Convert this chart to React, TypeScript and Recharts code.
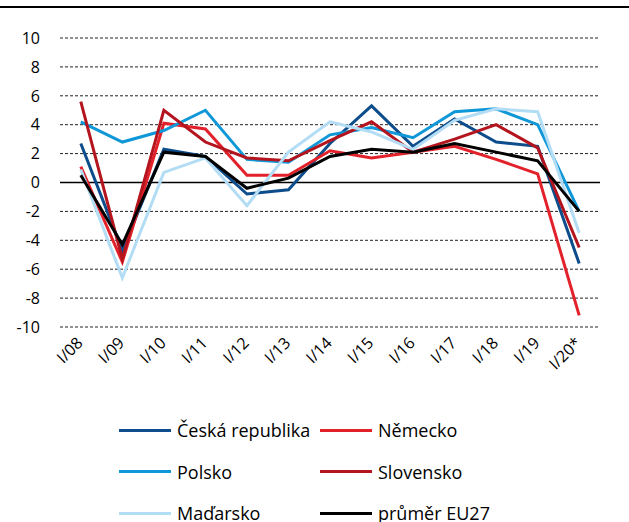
import { LineChart, Line, XAxis, YAxis, CartesianGrid, ReferenceLine } from 'recharts';

const periods = ['I/08', 'I/09', 'I/10', 'I/11', 'I/12', 'I/13', 'I/14', 'I/15', 'I/16', 'I/17', 'I/18', 'I/19', 'I/20*'];
const cesko = [2.7, -4.7, 2.3, 1.8, -0.8, -0.5, 2.7, 5.3, 2.5, 4.4, 2.8, 2.5, -5.6];
const nemecko = [1.1, -5.5, 4.1, 3.7, 0.5, 0.5, 2.2, 1.7, 2.1, 2.5, 1.6, 0.6, -9.2];
const polsko = [4.2, 2.8, 3.6, 5.0, 1.6, 1.4, 3.3, 3.8, 3.1, 4.9, 5.1, 4.0, -2.0];
const slovensko = [5.6, -5.3, 5.0, 2.8, 1.7, 1.5, 2.9, 4.2, 2.1, 3.0, 4.0, 2.4, -4.5];
const madarsko = [0.9, -6.6, 0.7, 1.7, -1.6, 2.1, 4.2, 3.5, 2.3, 4.3, 5.1, 4.9, -3.5];
const eu27 = [0.5, -4.3, 2.1, 1.8, -0.4, 0.3, 1.8, 2.3, 2.1, 2.7, 2.1, 1.5, -2.0];
const yTicks = [-10, -8, -6, -4, -2, 0, 2, 4, 6, 8, 10];

const series = [
  { key: 'cz', name: 'Česká republika', values: cesko, color: '#0d4d8c' },
  { key: 'de', name: 'Německo', values: nemecko, color: '#e3212b' },
  { key: 'pl', name: 'Polsko', values: polsko, color: '#0f97d7' },
  { key: 'sk', name: 'Slovensko', values: slovensko, color: '#b4141e' },
  { key: 'hu', name: 'Maďarsko', values: madarsko, color: '#b3dcf5' },
  { key: 'eu', name: 'průměr EU27', values: eu27, color: '#000000' },
];

const data = periods.map((period, i) => {
  const row: Record<string, string | number> = { period };
  series.forEach((s) => { row[s.key] = s.values[i]; });
  return row;
});

const FONT = '"Open Sans", sans-serif';

const XTick = ({ x, y, payload }: any) => (
  <text
    x={x + 3}
    y={y + 9}
    transform={`rotate(-45, ${x + 3}, ${y + 9})`}
    textAnchor="end"
    fontSize={16}
    fontFamily={FONT}
    fill="#000"
  >
    {payload.value}
  </text>
);

const YTick = ({ y, payload }: any) => (
  <text x={40} y={y} dy="0.36em" textAnchor="end" fontSize={16} fontFamily={FONT} fill="#000">
    {payload.value}
  </text>
);

const App = () => {
  return (
    <div style={{ position: 'absolute', left: 0, top: 0, width: 629, height: 522, background: '#fff', fontFamily: FONT, overflow: 'hidden' }}>
      <div style={{ position: 'absolute', left: 0, top: 6, width: 629, height: 1.5, background: '#000' }} />
      <LineChart width={629} height={522} data={data} margin={{ top: 38, right: 29, left: 0, bottom: 0 }}>
        <CartesianGrid vertical={false} strokeDasharray="3 2" stroke="#222" />
        <XAxis
          dataKey="period"
          axisLine={false}
          tickLine={false}
          interval={0}
          height={195}
          padding={{ left: 20.8, right: 20.8 }}
          tick={<XTick />}
        />
        <YAxis
          domain={[-10, 10]}
          ticks={yTicks}
          width={60}
          axisLine={false}
          tickLine={false}
          tick={<YTick />}
        />
        <ReferenceLine y={0} stroke="#000" strokeWidth={1.5} />
        {series.map((s) => (
          <Line
            key={s.key}
            type="linear"
            dataKey={s.key}
            name={s.name}
            stroke={s.color}
            strokeWidth={3}
            dot={false}
            isAnimationActive={false}
          />
        ))}
      </LineChart>
      {series.map((s, i) => {
        const col = i % 2;
        const row = Math.floor(i / 2);
        const left = col === 0 ? 119 : 320;
        const top = 430 + row * 41.5;
        return (
          <div key={s.key} style={{ position: 'absolute', left, top: top - 13, height: 26, display: 'flex', alignItems: 'center' }}>
            <div style={{ width: 52, height: 3, background: s.color, marginRight: 6 }} />
            <span style={{ fontSize: 18, color: '#000', whiteSpace: 'nowrap' }}>{s.name}</span>
          </div>
        );
      })}
    </div>
  );
};

export default App;
